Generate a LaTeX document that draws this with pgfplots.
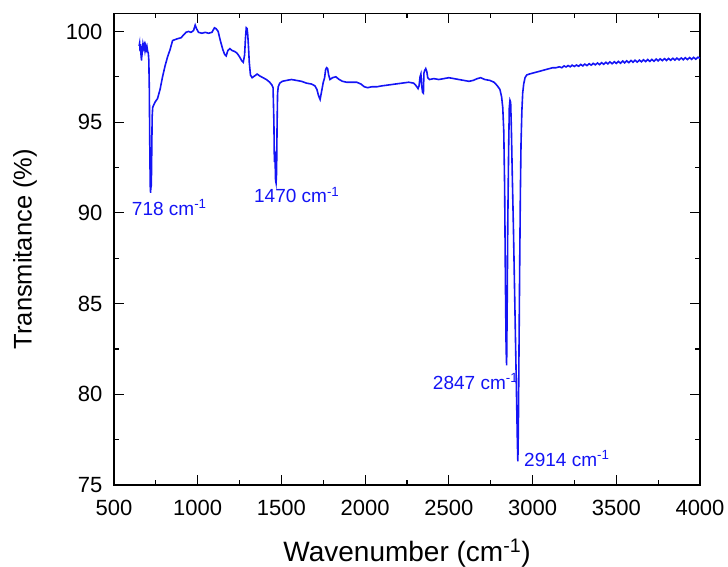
\documentclass[border=0pt]{standalone}
\usepackage{fontspec}
\setmainfont{Liberation Sans}
\usepackage{pgfplots}
\pgfplotsset{compat=1.18}
\definecolor{spec}{RGB}{20,20,245}
\begin{document}
\begin{tikzpicture}
\begin{axis}[
  name=ax,
  scale only axis,
  width=586pt, height=471.7pt,
  xmin=500, xmax=4000, ymin=75, ymax=101,
  xtick={500,1000,...,4000},
  ytick={75,80,...,100},
  minor x tick num=1,
  minor y tick num=1,
  tick align=inside,
  major tick length=10pt,
  minor tick length=5pt,
  axis line style={line width=1.3pt},
  every tick/.style={line width=1.2pt,black},
  /pgf/number format/assume math mode=true,
  /pgf/number format/1000 sep={},
  ticklabel style={font=\fontsize{22}{25}\selectfont},
  xticklabel style={yshift=-12pt},
  yticklabel style={xshift=-8pt},
  xlabel={Wavenumber (cm\textsuperscript{-1})},
  ylabel={Transmitance (\%)},
  xlabel style={font=\fontsize{28}{32}\selectfont, yshift=-16pt},
  ylabel style={font=\fontsize{25.5}{30}\selectfont, yshift=22pt},
  clip=true,
]
\addplot[spec, line width=1.6pt] coordinates {
(650,99.2) (653,99.35) (656,98.9) (659,99.3) (662,98.6) (665,98.4) (667,99.2) (670,99.0) (673,99.3) (677,99.1) (681,99.25) (685,98.95) (689,99.2) (693,99.0) (697,99.15) (701,98.9) (705,98.8) (708,98.4) (711,96.8) (713,94.5) (715,92.6) (717,91.3) (719,91.1) (721,92.8) (722,91.4) (724,92.2) (726,93.8) (728,95.3) (731,95.8) (735,95.9) (745,96.1) (760,96.3) (775,96.8) (790,97.5) (805,98.1) (820,98.6) (835,99.0) (850,99.5) (865,99.55) (880,99.6) (900,99.65) (915,99.8) (930,99.95) (945,100.0) (960,99.95) (975,100.05) (985,100.35) (993,100.15) (1005,99.95) (1025,99.9) (1045,99.95) (1065,99.9) (1085,99.95) (1100,100.2) (1110,100.15) (1122,100.0) (1135,99.5) (1150,99.0) (1160,98.75) (1170,98.65) (1180,98.95) (1192,99.05) (1205,98.95) (1220,98.9) (1235,98.8) (1250,98.6) (1262,98.4) (1272,98.3) (1280,98.7) (1285,99.6) (1290,100.2) (1295,100.15) (1299,99.8) (1303,99.2) (1308,98.3) (1315,97.6) (1325,97.45) (1340,97.55) (1355,97.65) (1370,97.55) (1390,97.45) (1410,97.35) (1430,97.2) (1443,97.05) (1450,96.9) (1455,95.0) (1458,92.8) (1462,93.0) (1465,91.8) (1468,91.65) (1471,92.2) (1474,94.8) (1477,96.6) (1481,96.95) (1490,97.15) (1505,97.25) (1530,97.3) (1560,97.35) (1590,97.3) (1620,97.25) (1650,97.15) (1680,97.1) (1700,97.0) (1712,96.8) (1722,96.45) (1731,96.25) (1740,96.7) (1750,97.2) (1758,97.45) (1764,97.9) (1770,98.0) (1776,97.95) (1782,97.6) (1790,97.35) (1805,97.45) (1825,97.5) (1845,97.35) (1865,97.25) (1890,97.2) (1920,97.2) (1950,97.2) (1975,97.1) (1995,96.95) (2015,96.9) (2040,96.95) (2070,96.95) (2100,97.0) (2140,97.05) (2180,97.1) (2220,97.15) (2260,97.2) (2290,97.15) (2305,97.0) (2316,96.85) (2322,97.0) (2328,97.5) (2333,97.65) (2338,97.0) (2343,96.65) (2348,96.6) (2351,97.7) (2356,97.85) (2362,97.95) (2368,97.8) (2374,97.45) (2385,97.35) (2410,97.4) (2440,97.35) (2470,97.4) (2500,97.45) (2530,97.4) (2560,97.35) (2590,97.3) (2620,97.25) (2645,97.3) (2670,97.4) (2690,97.45) (2715,97.35) (2745,97.3) (2770,97.2) (2790,97.0) (2805,96.8) (2815,96.4) (2822,95.8) (2828,94.5) (2833,91.5) (2838,86.0) (2842,82.5) (2845,81.6) (2848,84.5) (2852,89.5) (2857,93.5) (2861,95.8) (2865,96.2) (2869,96.1) (2873,94.8) (2879,92.0) (2886,89.0) (2893,85.5) (2900,82.0) (2905,79.5) (2909,77.5) (2912,76.3) (2915,78.0) (2919,82.5) (2923,87.0) (2927,91.0) (2931,93.8) (2936,95.6) (2941,96.6) (2947,97.1) (2955,97.45) (2965,97.6) (2980,97.65) (3000,97.7) (3020,97.75) (3040,97.8) (3060,97.85) (3080,97.9) (3100,97.95) (3120,98.0) (3140,98.0) (3160,98.05) (3175,98.0) (3188,98.1) (3200,98.04) (3212,98.12) (3225,98.05) (3236,98.14) (3250,98.07) (3262,98.15) (3275,98.08) (3288,98.18) (3300,98.1) (3312,98.2) (3325,98.12) (3338,98.22) (3350,98.14) (3362,98.24) (3375,98.16) (3388,98.26) (3400,98.17) (3412,98.28) (3425,98.19) (3438,98.3) (3450,98.21) (3462,98.32) (3475,98.22) (3488,98.33) (3500,98.24) (3512,98.35) (3525,98.25) (3538,98.37) (3550,98.27) (3562,98.38) (3575,98.28) (3588,98.4) (3600,98.3) (3612,98.41) (3625,98.31) (3638,98.42) (3650,98.33) (3662,98.44) (3675,98.34) (3688,98.45) (3700,98.35) (3712,98.46) (3725,98.36) (3738,98.48) (3750,98.38) (3762,98.49) (3775,98.39) (3788,98.5) (3800,98.4) (3812,98.51) (3825,98.41) (3838,98.52) (3850,98.42) (3862,98.53) (3875,98.43) (3888,98.54) (3900,98.44) (3912,98.55) (3925,98.45) (3938,98.56) (3950,98.46) (3962,98.57) (3975,98.47) (3988,98.58) (4000,98.52)
};
\node[anchor=west, inner sep=0pt, text=spec, font=\fontsize{19}{22}\selectfont] at (axis cs:606,90.29) {718 cm\textsuperscript{-1}};
\node[anchor=west, inner sep=0pt, text=spec, font=\fontsize{19}{22}\selectfont] at (axis cs:1336,91.0) {1470 cm\textsuperscript{-1}};
\node[anchor=west, inner sep=0pt, text=spec, font=\fontsize{19}{22}\selectfont] at (axis cs:2404,80.7) {2847 cm\textsuperscript{-1}};
\node[anchor=west, inner sep=0pt, text=spec, font=\fontsize{19}{22}\selectfont] at (axis cs:2949,76.46) {2914 cm\textsuperscript{-1}};
\end{axis}
\pgfresetboundingbox
\path (ax.south west) ++(-114pt,-82pt) coordinate (bl);
\path (ax.north east) ++(28pt,13.3pt) coordinate (tr);
\useasboundingbox (bl) rectangle (tr);
\end{tikzpicture}
\end{document}
